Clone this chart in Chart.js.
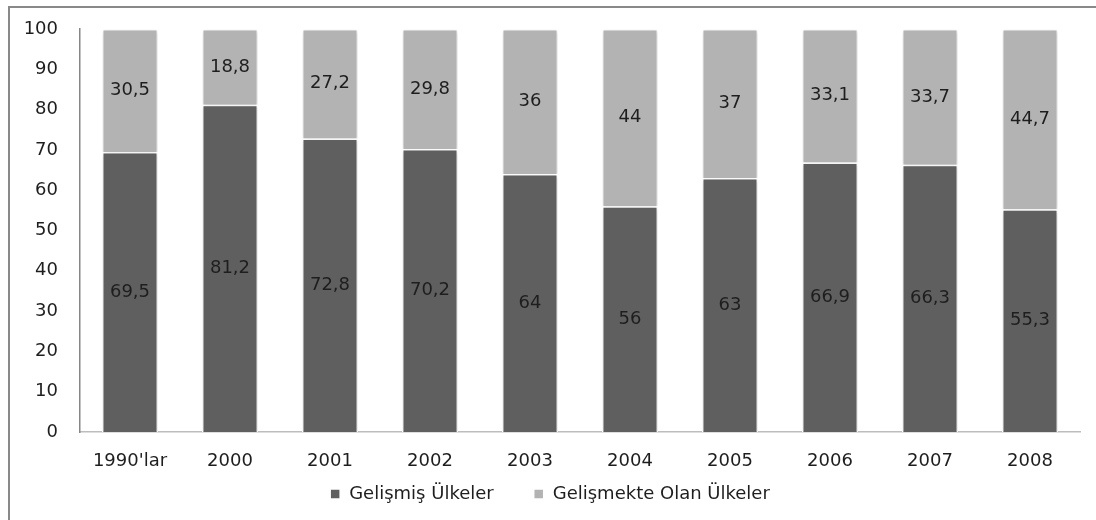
<!DOCTYPE html>
<html>
<head>
<meta charset="utf-8">
<script src="https://cdn.jsdelivr.net/npm/chart.js@4/dist/chart.umd.min.js"></script>
<style>
  html, body { margin: 0; background: #fff; overflow: hidden; width: 1096px; height: 520px; }
  #frame {
    position: absolute; left: 8px; top: 6px; right: 0; bottom: 0;
    border-top: 2px solid #898989;
    border-left: 2px solid #898989;
  }
  #wrap { position: absolute; left: 0; top: 0; width: 1096px; height: 520px; }
</style>
</head>
<body>
<div id="frame"></div>
<div id="wrap"><canvas id="chart"></canvas></div>
<script>
const years = ["1990'lar", "2000", "2001", "2002", "2003", "2004", "2005", "2006", "2007", "2008"];
const developed = [69.5, 81.2, 72.8, 70.2, 64, 56, 63, 66.9, 66.3, 55.3];
const developing = [30.5, 18.8, 27.2, 29.8, 36, 44, 37, 33.1, 33.7, 44.7];
const yTicks = [0, 10, 20, 30, 40, 50, 60, 70, 80, 90, 100];

const FONT = "'DejaVu Sans', sans-serif";

// soft halo around bars
const barShadow = {
  id: "barShadow",
  beforeDatasetDraw(chart) {
    const ctx = chart.ctx;
    ctx.save();
    ctx.shadowColor = "rgba(0,0,0,0.18)";
    ctx.shadowBlur = 4;
    ctx.shadowOffsetX = 0;
    ctx.shadowOffsetY = 1;
  },
  afterDatasetDraw(chart) {
    chart.ctx.restore();
  },
};

// value labels in the middle of each segment
const segmentLabels = {
  id: "segmentLabels",
  afterDatasetsDraw(chart) {
    const ctx = chart.ctx;
    ctx.save();
    ctx.font = "18px " + FONT;
    ctx.fillStyle = "#1e1e1e";
    ctx.textAlign = "center";
    ctx.textBaseline = "middle";
    chart.data.datasets.forEach((ds, i) => {
      chart.getDatasetMeta(i).data.forEach((bar, j) => {
        const txt = String(ds.data[j]).replace(".", ",");
        ctx.fillText(txt, bar.x, (bar.y + bar.base) / 2);
      });
    });
    ctx.restore();
  },
};

new Chart(document.getElementById("chart"), {
  type: "bar",
  data: {
    labels: years,
    datasets: [
      {
        label: "Gelişmiş Ülkeler",
        data: developed,
        backgroundColor: "#5f5f5f",
        borderColor: "#ffffff",
        borderWidth: 1.5,
        barPercentage: 0.56,
        categoryPercentage: 1,
      },
      {
        label: "Gelişmekte Olan Ülkeler",
        data: developing,
        backgroundColor: "#b3b3b3",
        borderColor: "#ffffff",
        borderWidth: 1.5,
        barPercentage: 0.56,
        categoryPercentage: 1,
      },
    ],
  },
  options: {
    responsive: true,
    maintainAspectRatio: false,
    animation: false,
    layout: { padding: { top: 29, right: 16, bottom: 7, left: 20 } },
    plugins: {
      legend: {
        position: "bottom",
        labels: {
          boxWidth: 10,
          boxHeight: 10,
          padding: 40,
          color: "#1e1e1e",
          font: { family: FONT, size: 18 },
        },
      },
      tooltip: { enabled: false },
    },
    scales: {
      x: {
        stacked: true,
        grid: { display: false, drawTicks: false },
        border: { color: "#bdbdbd", width: 1.5 },
        ticks: {
          color: "#1e1e1e",
          mirror: true,
          padding: -40,
          maxRotation: 0,
          font: { family: FONT, size: 18 },
        },
        afterFit(scale) { scale.height = 13; },
      },
      y: {
        stacked: true,
        min: 0,
        max: 100,
        afterBuildTicks(scale) { scale.ticks = yTicks.map((v) => ({ value: v })); },
        grid: { display: false, drawTicks: false },
        border: { color: "#868686", width: 1.5 },
        ticks: {
          color: "#1e1e1e",
          padding: 22,
          font: { family: FONT, size: 18 },
        },
        afterFit(scale) {
          scale.width = 60;
          scale.paddingTop = 0;
          scale.paddingBottom = 0;
        },
      },
    },
  },
  plugins: [barShadow, segmentLabels],
});
</script>
</body>
</html>
